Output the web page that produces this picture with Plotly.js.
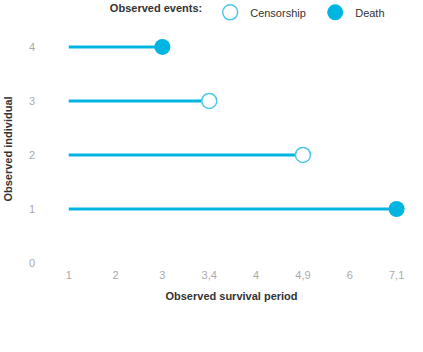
<!DOCTYPE html>
<html>
<head>
<meta charset="utf-8">
<script src="https://cdn.plot.ly/plotly-3.0.1.min.js"></script>
<style>html,body{margin:0;padding:0;background:#fff;}</style>
</head>
<body>
<div id="chart" style="width:423px;height:352px;"></div>
<script>
// x axis is categorical: observed times, equally spaced
periodLabels=["1","2","3","3,4","4","4,9","6","7,1"];
individuals=[1,2,3,4];
startPeriod="1";
endPeriod=["7,1","4,9","3,4","3"];
eventType=["Death","Censorship","Censorship","Death"];

blue="#00b5e2";

tracks=[];
for(let i=0;i<individuals.length;i++)
{
    tracks.push({
        x:[startPeriod,endPeriod[i]], y:[individuals[i],individuals[i]],
        type:"scatter", mode:"lines",
        line:{color:blue,width:3},
        showlegend:false, hoverinfo:"none"
    });
}

cens=individuals.filter((v,i)=>eventType[i]=="Censorship");
censX=endPeriod.filter((v,i)=>eventType[i]=="Censorship");
death=individuals.filter((v,i)=>eventType[i]=="Death");
deathX=endPeriod.filter((v,i)=>eventType[i]=="Death");

tracks.push({
    x:censX, y:cens, type:"scatter", mode:"markers", name:"Censorship",
    marker:{size:15,color:"white",line:{color:"#4cc8ea",width:1.5}}
});
tracks.push({
    x:deathX, y:death, type:"scatter", mode:"markers", name:"Death",
    marker:{size:16,color:blue,line:{width:0}}
});

layout={
    width:423, height:352,
    font:{family:"Liberation Sans, Arial, sans-serif",size:11,color:"#999"},
    paper_bgcolor:"white", plot_bgcolor:"white",
    margin:{l:50,r:10,t:35,b:89,autoexpand:false},
    xaxis:{
        type:"category", categoryorder:"array", categoryarray:periodLabels,
        range:[-0.4,7.35], showgrid:false, zeroline:false, showline:false,
        ticks:"", tickfont:{color:"#aaa",size:11}, ticklabelstandoff:4,
        title:{text:"<b>Observed survival period</b>",font:{color:"#333",size:11},standoff:12}
    },
    yaxis:{
        range:[0,4.22], tickvals:[0,1,2,3,4], showgrid:false, zeroline:false, showline:false,
        ticks:"", tickfont:{color:"#aaa",size:11}, ticklabelstandoff:14,
        title:{text:"<b>Observed individual</b>",font:{color:"#333",size:11},standoff:14}
    },
    legend:{
        orientation:"h", xref:"container", yref:"container",
        x:0.255, xanchor:"left", y:0.965, yanchor:"middle",
        title:{text:"<b>Observed events:</b>",font:{color:"#333",size:11},side:"left"},
        font:{color:"#333",size:11}, itemsizing:"trace", entrywidth:60
    }
};

Plotly.newPlot("chart",tracks,layout,{displayModeBar:false});
</script>
</body>
</html>
